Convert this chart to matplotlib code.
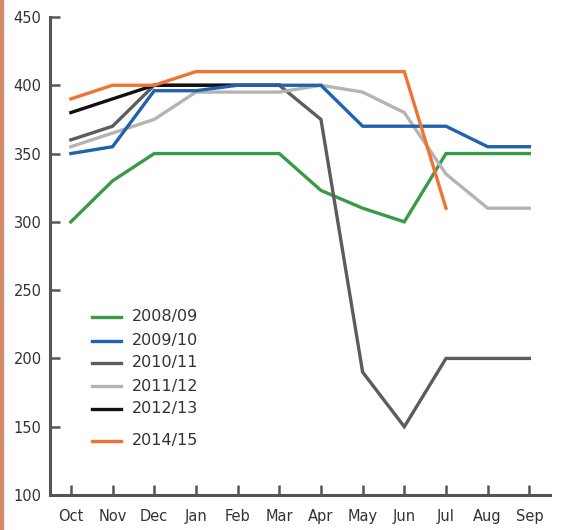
import matplotlib
matplotlib.use("Agg")
import matplotlib.pyplot as plt
import numpy as np
from matplotlib.patches import Rectangle

months = ["Oct", "Nov", "Dec", "Jan", "Feb", "Mar", "Apr", "May", "Jun", "Jul", "Aug", "Sep"]
yticks = [100, 150, 200, 250, 300, 350, 400, 450]

s2008 = [300, 330, 350, 350, 350, 350, 323, 310, 300, 350, 350, 350]
s2009 = [350, 355, 396, 396, 400, 400, 400, 370, 370, 370, 355, 355]
s2010 = [360, 370, 400, 400, 400, 400, 375, 190, 150, 200, 200, 200]
s2011 = [355, 365, 375, 395, 395, 395, 400, 395, 380, 335, 310, 310]
s2012 = [380, 390, 400, 400, 400, 400, np.nan, np.nan, np.nan, np.nan, np.nan, np.nan]
s2014 = [390, 400, 400, 410, 410, 410, 410, 410, 410, 310, np.nan, np.nan]

labels = ["2008/09", "2009/10", "2010/11", "2011/12", "2012/13", "2014/15"]
colors = ["#3a9a48", "#1f62b0", "#5c5c5c", "#b4b4b4", "#111111", "#ee7433"]

fig = plt.figure(figsize=(5.62, 5.30), dpi=100)
fig.patch.set_facecolor("white")
ax = fig.add_axes([0.089, 0.066, 0.890, 0.902])

x = np.arange(len(months))
series = [s2008, s2009, s2010, s2011, s2012, s2014]
order = [0, 2, 3, 4, 1, 5]
lw = 2.4
for i in order:
    ax.plot(x, series[i], color=colors[i], lw=lw, solid_joinstyle="miter", zorder=2 + order.index(i))

ax.set_xlim(-0.5, 11.5)
ax.set_ylim(100, 450)
ax.set_xticks(x)
ax.set_xticklabels(months)
ax.set_yticks(yticks)
for sp in ["top", "right"]:
    ax.spines[sp].set_visible(False)
for sp in ["left", "bottom"]:
    ax.spines[sp].set_color("#555555")
    ax.spines[sp].set_linewidth(2.2)
ax.tick_params(axis="both", direction="in", length=7, width=1.8, color="#555555",
               labelsize=10.5, labelcolor="#333333")
ax.tick_params(axis="x", pad=10)
ax.tick_params(axis="y", pad=6)

# legend drawn manually
leg_y = [317, 341, 363, 386, 409, 441]
for lab, c, yp in zip(labels, colors, leg_y):
    yf = 1 - yp / 530
    fig.add_artist(plt.Line2D([92 / 562, 121 / 562], [yf, yf], color=c, lw=lw,
                              transform=fig.transFigure))
    fig.text(132 / 562, yf, lab, fontsize=11.5, color="#333333", va="center", ha="left")

# left decorative stripe
fig.add_artist(Rectangle((0, 0), 3 / 562, 1, transform=fig.transFigure,
                         color="#d28c6c", zorder=10))

fig.savefig("out.png", dpi=100)
